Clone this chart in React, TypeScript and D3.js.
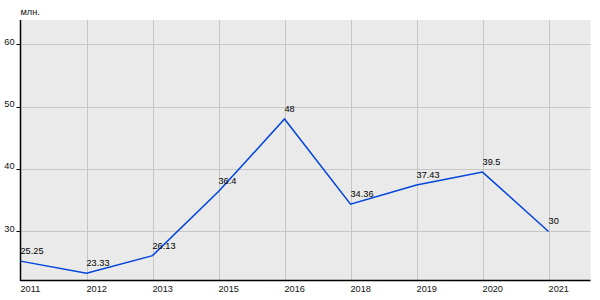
import React from "react";
import * as d3 from "d3";

const categories = ["2011", "2012", "2013", "2015", "2016", "2018", "2019", "2020", "2021"];
const values = [25.25, 23.33, 26.13, 36.4, 48, 34.36, 37.43, 39.5, 30];
const yTicks = [30, 40, 50, 60];
const unitLabel = "млн.";

export default function App() {
  const W = 600, H = 300;
  const left = 20.5, right = 590.5, top = 20, bottom = 280.5;
  const x = d3.scaleLinear().domain([0, 8.636]).range([left, right]);
  const y = d3.scaleLinear().domain([22.15, 63.85]).range([bottom, top]);
  const line = d3.line<number>().x((_, i) => x(i)).y((d) => y(d));
  const font = "Liberation Sans, Arial, sans-serif";
  const fs = 9.2;
  return (
    <svg width={W} height={H} style={{ position: "absolute", left: 0, top: 0 }} fontFamily={font}>
      <rect x={left} y={top} width={right - left} height={bottom - top} fill="#eaeaea" />
      {yTicks.map((t) => (
        <g key={t}>
          <line x1={left} x2={right} y1={Math.round(y(t)) + 0.5} y2={Math.round(y(t)) + 0.5} stroke="#c6c6c6" />
          <line x1={left - 4} x2={left} y1={Math.round(y(t)) + 0.5} y2={Math.round(y(t)) + 0.5} stroke="#000" />
          <text x={14.5} y={y(t) + 0.5} textAnchor="end" fontSize={fs} fill="#111">{t}</text>
        </g>
      ))}
      {categories.map((c, i) => (
        <g key={c}>
          {i > 0 && (
            <line x1={Math.round(x(i)) + 0.5} x2={Math.round(x(i)) + 0.5} y1={top} y2={bottom} stroke="#c6c6c6" />
          )}
          <text x={x(i)} y={292} textAnchor="start" fontSize={fs} fill="#111">{c}</text>
        </g>
      ))}
      <line x1={left} x2={left} y1={top} y2={bottom + 0.5} stroke="#000" strokeWidth={1.5} />
      <line x1={left} x2={right} y1={bottom} y2={bottom} stroke="#000" strokeWidth={1.5} />
      <path d={line(values) || ""} fill="none" stroke="#0044dd" strokeWidth={1.5} />
      {values.map((v, i) => (
        <text key={i} x={x(i)} y={y(v) - 7} fontSize={fs} fill="#000">{String(v)}</text>
      ))}
      <text x={20.5} y={15} fontSize={fs} fill="#111">{unitLabel}</text>
    </svg>
  );
}
